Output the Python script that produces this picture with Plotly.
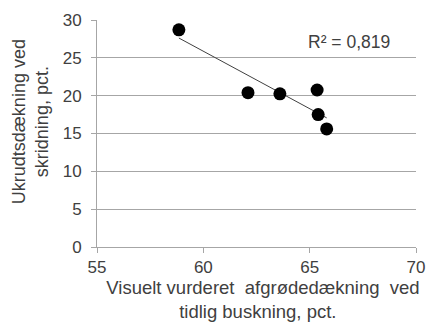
import numpy as np
import plotly.graph_objects as go

x_vals = [58.85, 62.1, 63.6, 65.35, 65.4, 65.8]
y_vals = [28.7, 20.4, 20.25, 20.75, 17.5, 15.6]
x_ticks = [55, 60, 65, 70]
y_ticks = [0, 5, 10, 15, 20, 25, 30]
r2_label = "R² = 0,819"
x_title = ("\u00a0\u00a0Visuelt vurderet\u00a0 afgrødedækning\u00a0 ved"
           "<br>tidlig buskning, pct.")
y_title = "Ukrudtsdækning ved<br>skridning, pct."

slope, intercept = np.polyfit(x_vals, y_vals, 1)
tx = [min(x_vals), max(x_vals)]
ty = [slope * v + intercept for v in tx]

FAM = "Liberation Sans, Arial, sans-serif"
TXT = "#404040"

fig = go.Figure()
fig.add_trace(go.Scatter(x=tx, y=ty, mode="lines",
                         line=dict(color="#404040", width=1), showlegend=False))
fig.add_trace(go.Scatter(x=x_vals, y=y_vals, mode="markers",
                         marker=dict(color="black", size=13), showlegend=False))

fig.add_annotation(text=r2_label, xref="paper", yref="paper", x=0.925, y=0.905,
                   xanchor="right", yanchor="middle", showarrow=False,
                   font=dict(family=FAM, size=17.5, color=TXT))

fig.add_annotation(text=y_title, xref="paper", yref="paper", x=-0.21, y=0.55,
                   xanchor="center", yanchor="middle", showarrow=False, textangle=-90,
                   font=dict(family=FAM, size=18, color=TXT))

fig.add_annotation(text=x_title, xref="paper", yref="paper", x=0.505, y=-0.122,
                   xanchor="center", yanchor="top", showarrow=False,
                   font=dict(family=FAM, size=18.5, color=TXT))

fig.update_layout(
    width=427, height=327,
    margin=dict(l=97, r=11, t=20, b=80),
    paper_bgcolor="white", plot_bgcolor="white",
    font=dict(family=FAM, size=17, color=TXT),
    xaxis=dict(range=[55, 70], tickvals=x_ticks, showgrid=False, automargin=False,
               showline=True, linecolor="#a6a6a6", linewidth=1,
               ticks="outside", ticklen=5, tickcolor="#a6a6a6",
               zeroline=False, tickfont=dict(family=FAM, size=17, color=TXT)),
    yaxis=dict(range=[0, 30], tickvals=y_ticks, showgrid=True, automargin=False,
               gridcolor="#a6a6a6", gridwidth=1,
               showline=True, linecolor="#a6a6a6", linewidth=1,
               ticks="outside", ticklen=5, tickcolor="#a6a6a6",
               zeroline=False, tickfont=dict(family=FAM, size=17, color=TXT),
               ticklabelstandoff=6),
)

fig.write_html("out.html")
